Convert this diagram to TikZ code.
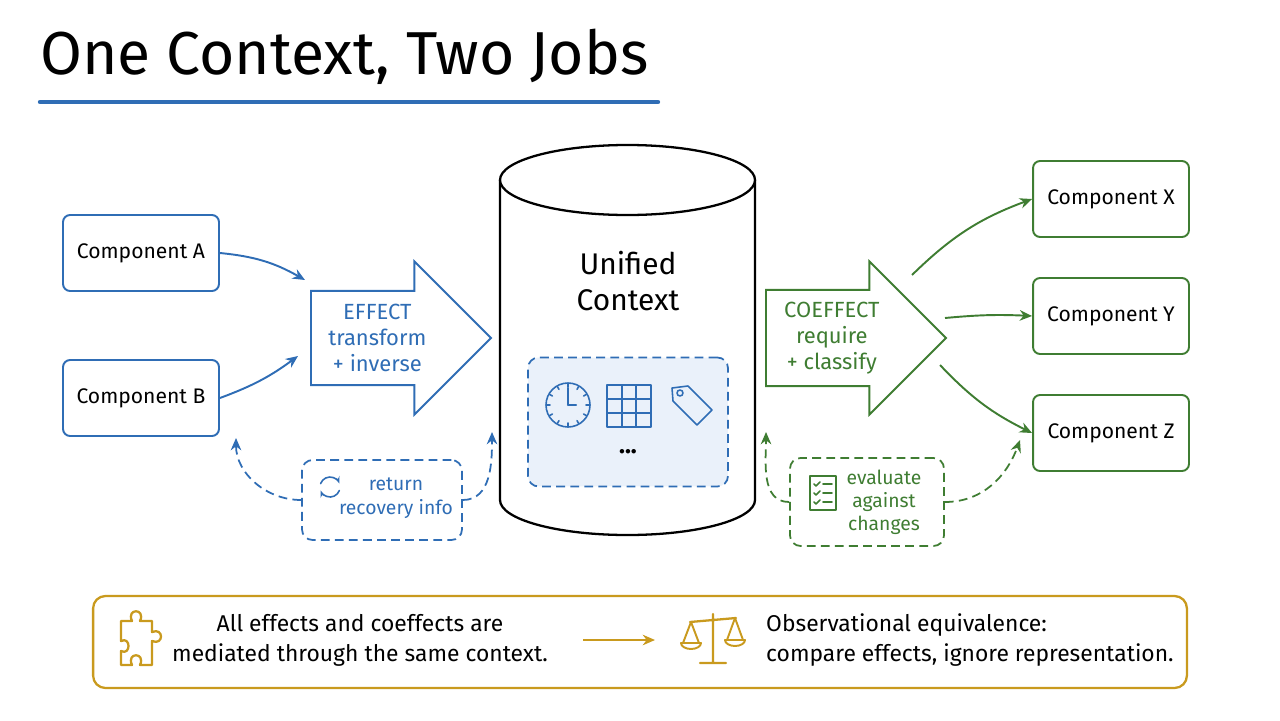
\documentclass[tikz,border=0pt]{standalone}
\usepackage{fontspec}
\setmainfont{Fira Sans}
\usetikzlibrary{positioning,shapes.arrows,arrows.meta}
\definecolor{effblue}{HTML}{2F6DB5}
\definecolor{coegreen}{HTML}{3F7D32}
\definecolor{gold}{HTML}{C99A1E}
\definecolor{paleblue}{HTML}{EAF1FA}
\tikzset{
  comp/.style={draw, rounded corners=4pt, line width=1.1pt, minimum width=3.12cm, minimum height=1.52cm, font=\fontsize{12}{14}\selectfont},
  bigarrow/.style={single arrow, line width=1.1pt, fill=white, minimum height=3.6cm, minimum width=3.06cm, single arrow head extend=0.48cm, single arrow tip angle=90, single arrow head indent=0pt, align=center, font=\fontsize{12.5}{15}\selectfont, inner sep=2pt, anchor=tail},
  note/.style={draw, dashed, dash pattern=on 5pt off 3pt, rounded corners=6pt, line width=1pt, align=center},
  flow/.style={-{Stealth[length=7pt,width=6pt]}, line width=1.1pt},
  back/.style={-{Stealth[length=7pt,width=6pt]}, line width=1pt, dash pattern=on 5pt off 3pt},
  icon/.style={line width=0.9pt, line cap=round, line join=round}
}
\begin{document}
\begin{tikzpicture}[x=0.02cm, y=-0.02cm]
\useasboundingbox (0,0) rectangle (1280,720);

% title
\node[anchor=west, font=\fontsize{34.5}{40}\selectfont] (title) at (34,57) {One Context, Two Jobs};
\draw[effblue, line width=2.5pt, line cap=round] (40,102) -- (658,102);

% components on the left
\node[comp, draw=effblue] (ca) at (141,253) {Component A};
\node[comp, draw=effblue] (cb) at (141,398) {Component B};

% effect arrow
\node[bigarrow, draw=effblue, text=effblue] (eff) at (310,338) {EFFECT\\transform\\+ inverse};

% unified context
\draw[line width=1.3pt, fill=white] (500,180) -- (500,500) arc[start angle=180, end angle=0, x radius=127.5, y radius=35] -- (755,180);
\draw[line width=1.3pt, fill=white] (627.5,180) ellipse[x radius=127.5, y radius=35];
\node[align=center, font=\fontsize{17}{21}\selectfont] (ctx) at (628,281) {Unified\\Context};
\node[note, draw=effblue, fill=paleblue, minimum width=4cm, minimum height=2.58cm] (store) at (628,422) {};
% clock
\draw[icon, effblue] (568,405) circle[radius=22];
\foreach \a in {0,30,...,330} \draw[icon, effblue] (568,405) ++(\a:18) -- ++(\a:3);
\draw[icon, effblue, line width=1.2pt] (568,405) -- (568,388) (568,405) -- (576,405);
% table
\draw[icon, effblue] (607,385) rectangle (651,427);
\foreach \x in {622,636} \draw[icon, effblue] (\x,385) -- (\x,427);
\foreach \y in {399,413} \draw[icon, effblue] (607,\y) -- (651,\y);
% tag
\draw[icon, effblue] (672,388) -- (688,386) -- (712,410) -- (697,425) -- (673,401) -- cycle;
\draw[icon, effblue] (680,393) circle[radius=3];
\node[font=\fontsize{14}{16}\selectfont\bfseries] (dots) at (628,452) {...};

% recovery note
\node[note, draw=effblue, minimum width=3.2cm, minimum height=1.6cm] (rec) at (382,500) {};
\node[effblue, align=center, font=\fontsize{11}{13.5}\selectfont] (rectext) at (396,498) {return\\recovery info};
\draw[icon, effblue, -{Stealth[length=4pt]}] (330,487) ++(20:10) arc[start angle=20, end angle=160, radius=10];
\draw[icon, effblue, -{Stealth[length=4pt]}] (330,487) ++(200:10) arc[start angle=200, end angle=340, radius=10];

% coeffect arrow
\node[bigarrow, draw=coegreen, text=coegreen] (coe) at (765,338) {COEFFECT\\require\\+ classify};

% components on the right
\node[comp, draw=coegreen] (cx) at (1111,199) {Component X};
\node[comp, draw=coegreen] (cy) at (1111,316) {Component Y};
\node[comp, draw=coegreen] (cz) at (1111,433) {Component Z};

% evaluate note
\node[note, draw=coegreen, minimum width=3.08cm, minimum height=1.76cm] (eval) at (867,502) {};
\node[coegreen, align=center, font=\fontsize{11}{13}\selectfont] (evaltext) at (884,502) {evaluate\\against\\changes};
\draw[icon, coegreen] (810,476) rectangle (836,510);
\foreach \y in {484,493,502} {
  \draw[icon, coegreen] (814,\y) -- (816,\y+2) -- (820,\y-2);
  \draw[icon, coegreen] (823,\y) -- (832,\y);
}

% main flows
\draw[flow, effblue] (ca.east) to[bend left=12] (305,280);
\draw[flow, effblue] (cb.east) to[bend right=8] (298,356);
\draw[flow, coegreen] (912,275) to[bend left=12] (cx.west);
\draw[flow, coegreen] (945,318) to[bend left=4] (cy.west);
\draw[flow, coegreen] (940,365) to[bend right=10] (cz.west);

% feedback flows
\draw[back, effblue] (rec.west) to[out=180, in=-90] (236,438);
\draw[back, effblue] (rec.east) to[out=0, in=-90] (492,432);
\draw[back, coegreen] (eval.west) to[out=180, in=-90] (766,432);
\draw[back, coegreen] (eval.east) to[out=0, in=-110] (1020,440);

% bottom panel
\node[draw=gold, rounded corners=7pt, line width=1.3pt, minimum width=21.88cm, minimum height=1.84cm] (panel) at (640,642) {};
\draw[icon, gold, line width=1.3pt] (121,621) -- (132,621) .. controls (126,608) and (146,608) .. (140,621) -- (152,621) -- (152,632) .. controls (164,627) and (164,646) .. (152,641) -- (152,665) -- (140,665) .. controls (146,652) and (126,652) .. (132,665) -- (121,665) -- (121,651) .. controls (131,656) and (131,636) .. (121,641) -- cycle;
\node[align=center, font=\fontsize{13}{17}\selectfont] (ptext1) at (360,640) {All effects and coeffects are\\mediated through the same context.};
\draw[flow, gold, line width=1.3pt] (583,640) -- (655,640);
\draw[icon, gold, line width=1.3pt] (713,614) -- (713,663) (700,663) -- (726,663) (690,622) -- (736,618);
\draw[icon, gold, line width=1.1pt] (691,622) -- (683,643) (691,622) -- (699,643) (681,643) arc[start angle=180, end angle=0, x radius=10, y radius=6] -- cycle;
\draw[icon, gold, line width=1.1pt] (735,618) -- (727,640) (735,618) -- (743,640) (725,640) arc[start angle=180, end angle=0, x radius=10, y radius=6] -- cycle;
\node[anchor=west, align=left, font=\fontsize{13}{17}\selectfont] (ptext2) at (760,640) {Observational equivalence:\\compare effects, ignore representation.};
\end{tikzpicture}
\end{document}
